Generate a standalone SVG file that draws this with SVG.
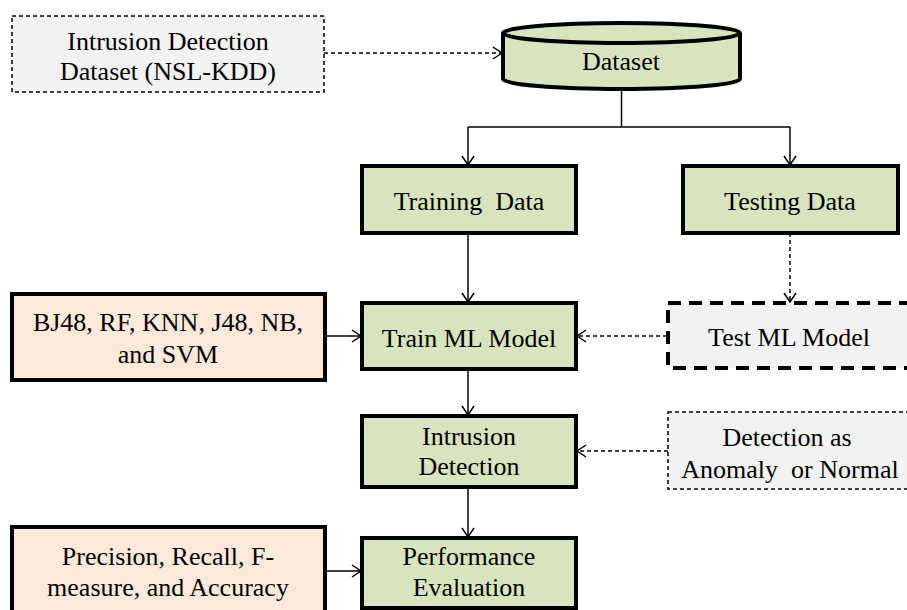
<svg xmlns="http://www.w3.org/2000/svg" width="907" height="610" viewBox="0 0 907 610">
<style>
text{font-family:"Liberation Serif","Times New Roman",serif;font-size:26px;fill:#000;text-anchor:middle;white-space:pre}
.g{fill:#d7e4bd;stroke:#000;stroke-width:4}
.p{fill:#fde9d9;stroke:#000;stroke-width:4}
.d{fill:#f2f2f2;stroke:#000;stroke-width:1.5;stroke-dasharray:4 3}
.D{fill:#f2f2f2;stroke:#000;stroke-width:4;stroke-dasharray:13 8}
.c{fill:none;stroke:#000;stroke-width:1.5}
.cd{fill:none;stroke:#000;stroke-width:1.5;stroke-dasharray:4 3}
</style>
<defs>
<marker id="a" markerUnits="userSpaceOnUse" markerWidth="12" markerHeight="14" refX="10" refY="7" orient="auto">
<path d="M1,1 L10,7 L1,13" fill="none" stroke="#000" stroke-width="1.5"/>
</marker>
</defs>
<g id="src">
<rect class="d" x="12" y="16" width="312" height="76"/>
<text x="168" y="50">Intrusion Detection</text>
<text x="168" y="80">Dataset (NSL-KDD)</text>
</g>
<g id="dataset">
<path class="g" stroke-width="3.5" d="M503,33 L503,79 A118.5,10 0 0 0 740,79 L740,33"/>
<ellipse class="g" stroke-width="3.5" cx="621.5" cy="33" rx="118.5" ry="10"/>
<text x="621" y="70">Dataset</text>
</g>
<g id="training">
<rect class="g" x="362" y="166" width="214" height="67"/>
<text x="469" y="210">Training  Data</text>
</g>
<g id="testing">
<rect class="g" x="683" y="166" width="215" height="67"/>
<text x="790" y="210">Testing Data</text>
</g>
<g id="algos">
<rect class="p" x="12" y="294" width="313" height="86"/>
<text x="168" y="331">BJ48, RF, KNN, J48, NB,</text>
<text x="168" y="363">and SVM</text>
</g>
<g id="train">
<rect class="g" x="362" y="303" width="214" height="66"/>
<text x="469" y="347">Train ML Model</text>
</g>
<g id="test">
<rect class="D" x="668" y="303" width="260" height="65"/>
<text x="789" y="346">Test ML Model</text>
</g>
<g id="intrusion">
<rect class="g" x="362" y="416" width="214" height="71"/>
<text x="469" y="445">Intrusion</text>
<text x="469" y="475">Detection</text>
</g>
<g id="detection">
<rect class="d" x="668" y="412" width="260" height="77"/>
<text x="787" y="446">Detection as</text>
<text x="790" y="478">Anomaly  or Normal</text>
</g>
<g id="metrics">
<rect class="p" x="12" y="527" width="313" height="95"/>
<text x="168" y="565">Precision, Recall, F-</text>
<text x="168" y="596">measure, and Accuracy</text>
</g>
<g id="perf">
<rect class="g" x="362" y="538" width="214" height="70"/>
<text x="469" y="565">Performance</text>
<text x="469" y="596">Evaluation</text>
</g>
<g id="connectors">
<path class="cd" d="M324,53 L502,53" marker-end="url(#a)"/>
<path class="c" d="M621.5,89 L621.5,127 M468,127 L790,127"/>
<path class="c" d="M468,127 L468,165" marker-end="url(#a)"/>
<path class="c" d="M790,127 L790,165" marker-end="url(#a)"/>
<path class="c" d="M468,233 L468,302" marker-end="url(#a)"/>
<path class="cd" d="M790,233 L790,302" marker-end="url(#a)"/>
<path class="c" d="M325,336 L361,336" marker-end="url(#a)"/>
<path class="cd" d="M667,336 L577,336" marker-end="url(#a)"/>
<path class="c" d="M468,369 L468,415" marker-end="url(#a)"/>
<path class="cd" d="M668,451 L577,451" marker-end="url(#a)"/>
<path class="c" d="M468,487 L468,537" marker-end="url(#a)"/>
<path class="c" d="M325,571 L361,571" marker-end="url(#a)"/>
</g>
</svg>
